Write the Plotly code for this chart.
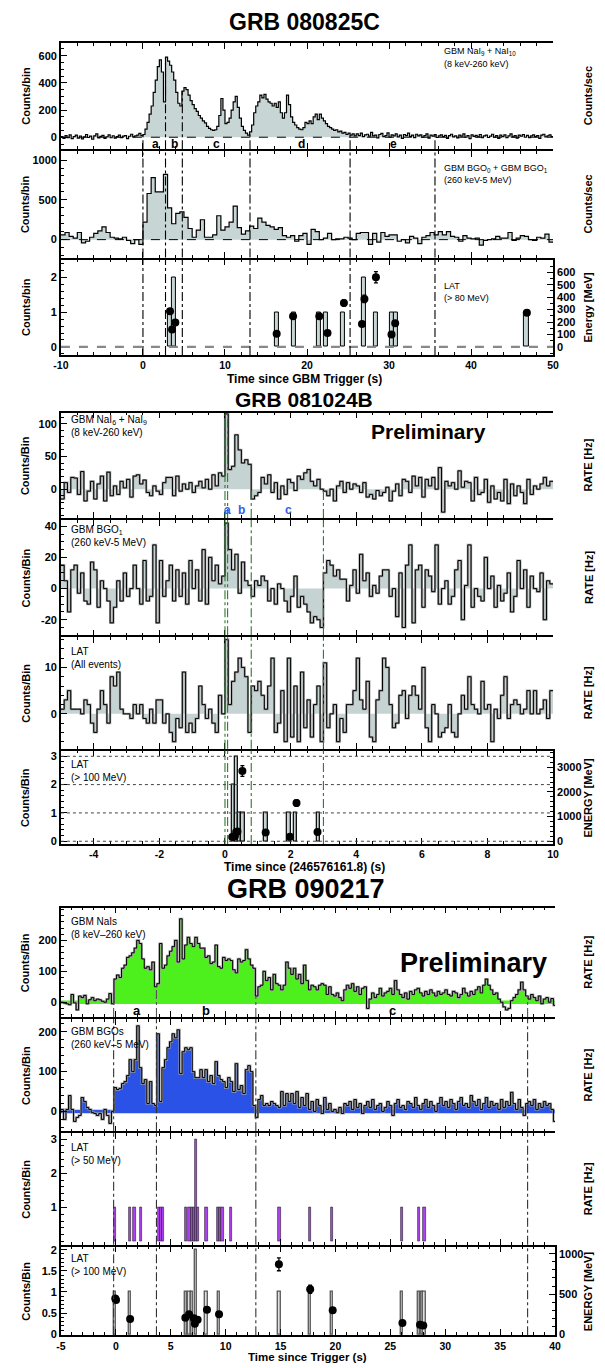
import numpy as np
import plotly.graph_objects as go

# ============================ DATA ============================
# ---------- GRB 080825C ----------
nai_080825c_start = -10.0
nai_080825c_bin = 0.25
nai_080825c_counts = [
    5, -8, 12, -3, 18, -10, 4, 15, -6, 9,
    -12, 3, 20, -2, 8, -15, 10, 25, -5, 6,
    14, -9, 2, 18, -4, 11, -7, 5, 16, -3,
    8, 12, -10, 7, 22, 3, 10, 15, 28, 12,
    20, 60, 110, 170, 230, 330, 420, 520, 570, 480,
    260, 590, 560, 530, 480, 420, 330, 250, 230, 340,
    365, 350, 310, 270, 240, 210, 190, 160, 140, 120,
    105, 80, 65, 55, 50, 55, 80, 160, 285, 200,
    100, 110, 140, 200, 260, 300, 220, 140, 80, 50,
    30, 15, 40, 90, 180, 230, 260, 310, 290, 315,
    280, 260, 250, 230, 250, 220, 260, 180, 140, 180,
    310, 240, 150, 110, 90, 70, 60, 55, 70, 110,
    100, 120, 100, 150, 170, 130, 170, 140, 120, 100,
    80, 70, 60, 50, 55, 40, 45, 30, 35, 20,
    30, 15, 25, 10,
    25, 12, 30, 5, 18, 22, 8, 35, 10, 15,
    -5, 20, 28, 5, 12, 32, 0, 18, 10, 25,
    3, 15, -8, 20, 12, 30, 6, 15, -3, 22,
    10, 18, 0, 12, 25, -6, 15, 8, 20, -2,
    10, 18, 5, 14, -8, 12, 22, 3, 10, -5,
    16, 8, 25, 0, 12, -10, 18, 6, 14, 2,
    20, -4, 10, 15, -2, 8, 22, 0, 12, -8,
    15, 5, 18, -3, 10, 25, 2, 12, -6, 16,
    8, 20, 0, 14, -4, 10, 18, 5, 12, -8,
    15, 22, 3, 10, 18, 5]

bgo_080825c_start = -10.0
bgo_080825c_bin = 0.5
bgo_080825c_counts = [
    60, 90, 40, 20, 90, -40, -20, 30, 80, 110,
    160, 90, 30, 20, 10, 30, -10, -50, 0, -60,
    220, 580, 780, 600, 600, 820, 400, 200, 330, 350,
    280, 140, 30, 120, 250, 30, 30, 60, 300, 120,
    160, 220, 420, 150, 70, 110, 170, 140, 270, 220,
    180, 160, 130, 150, 50, 30, 50, -20, 50, 80,
    -60, 130, 100, 0, 20, 80, 0, 10, 10, 30,
    20, 0, 80, 90, 90, -60, 80, -30, 90, 40,
    60, 60, -20, 0, -40, 40, 20, -50, 30, 50,
    90, 60, 100, 60, 100, 40, 30, -20, 50, 20,
    10, 20, -70, -10, 0, 10, 40, 20, 20, 90,
    -10, 20, 50, 40, 0, -10, 30, 20, 70, -30]

lat80_bin_centers = [3.25, 3.75, 16.35, 18.35, 21.4, 22.35, 24.35, 26.9, 28.35, 30.35, 30.85, 46.75]
lat80_bin_counts = [1, 2, 1, 1, 1, 1, 1, 2, 1, 1, 1, 1]
lat80_bin_width = 0.5
lat80_evt_time = [3.3, 3.55, 3.95, 16.3, 18.3, 21.5, 22.5, 24.5, 26.7, 27.0, 28.4, 30.3, 30.75, 46.8]
lat80_evt_energy = [288, 140, 196, 106, 246, 246, 112, 353, 185, 386, 560, 101, 190, 274]
lat80_evt_err = [10, 8, 8, 8, 10, 10, 8, 25, 10, 30, 45, 8, 10, 12]

intervals_080825c = [0.0, 2.75, 4.8, 13.05, 25.25, 35.6]
interval_labels_080825c = ["a", "b", "c", "d", "e"]
interval_label_time_080825c = [1.5, 3.85, 9.0, 19.3, 30.5]

# ---------- GRB 081024B ----------
start_081024b = -5.0
bin_081024b = 0.1
nai_081024b_counts = [
    -15, 10, -5, 18, 17, -8, 27, -18, -3, 12,
    -15, 8, 20, -18, 26, -10, 5, -8, 12, 2,
    15, -12, 20, 22, 8, 14, -5, -10, 5, -3,
    -8, 10, 18, 18, -10, 20, -3, 8, 0, 10,
    -5, 5, 12, 2, 15, 0, 22, 5, 25, 20,
    115, 30, 35, 83, 60, 40, 45, 38, -15, -10,
    -5, 18, 8, 22, -5, 10, -15, 5, -8, 15,
    10, -2, 20, 15, 25, 30, 12, 5, 15, 0,
    -3, -10, 0, -18, 5, 12, -5, 10, 0, 8,
    5, -5, 10, -12, -8, -15, -2, -10, -5, 3,
    -18, -3, 8, -10, 15, 12, -5, 20, 5, 18,
    -12, 15, 5, 18, 0, 33, -35, 12, 5, 10,
    0, 28, 3, 12, 10, -18, 18, -8, -5, 15,
    -20, 5, -15, -5, -18, 15, -22, 8, -10, 5,
    -5, -22, 15, -8, 5, 0, 8, 18, 5, 12]
bgo_081024b_counts = [
    15, 5, -15, 12, 15, -3, 10, -8, -10, 17,
    12, -12, 5, 0, -8, -22, -12, 5, -8, 10,
    -5, 0, 15, 0, -10, 18, -8, -5, 28, -22,
    18, -5, 5, 15, -8, 12, -5, 10, -10, 18,
    0, 12, -8, 25, -10, 20, 5, 15, 3, 8,
    42, 25, 12, 22, -3, 17, 5, 2, -5, 5,
    2, 8, 5, -8, 0, -10, 3, 0, -8, -15,
    -5, 8, -12, -5, -10, -15, -22, -18, -20, -25,
    10, 18, 15, 8, 12, 6, 6, -8, 2, 12,
    -3, 22, 5, 10, -5, 2, -3, 8, 12, 12,
    -5, 0, -18, 10, -25, 15, 28, -22, 12, 15,
    -12, 12, 8, -2, 28, -10, 0, 5, -10, -5,
    12, 18, -20, 2, 28, -12, 0, -5, -8, 20,
    0, 8, -12, 2, -8, -3, 10, -15, -5, 18,
    0, 12, -12, 8, 0, -2, 10, -20, 5, 3]
latall_081024b_counts = [
    1, 3, 5, 1, 1, 1, 0, 3, 2, -2,
    -4, 1, 5, 2, -2, 8, 6, 9, 1, 0,
    0, -1, 2, 0, 2, -1, -2, 1, -2, 3,
    3, -2, 0, -4, -6, -1, -3, 9, -4, -2,
    -4, -1, 6, 2, -1, 1, -2, -4, 4, 0,
    16, 2, 7, 9, 12, 10, 8, -4, 6, 5,
    7, 4, 1, 6, 12, -4, -2, 5, -6, 12,
    -5, 6, -6, 9, -3, 3, -5, 2, 6, -6,
    11, -3, 0, 2, -6, -1, -4, 2, 2, 5,
    12, 3, 1, 7, -5, -6, 3, 5, 12, 10,
    2, -3, -2, 4, 5, -1, 4, 6, 4, 1,
    10, -3, -6, 2, 0, -5, -4, -3, 2, -4,
    -5, 0, 4, 1, 8, 2, 1, 0, 7, 1,
    2, -6, 1, -1, 4, 8, -1, 2, 3, 2,
    0, 1, 5, 0, 5, 0, 1, 3, -1, 5]
lat100_081024b_centers = [0.25, 0.35, 0.45, 0.55, 1.25, 1.95, 2.15, 2.85]
lat100_081024b_counts = [2, 3, 1, 1, 1, 1, 1, 1]
lat100_081024b_width = 0.1
lat100_081024b_evt_time = [0.22, 0.3, 0.34, 0.38, 0.53, 1.24, 1.98, 2.18, 2.82]
lat100_081024b_evt_energy = [170, 200, 380, 400, 2850, 350, 180, 1550, 380]
lat100_081024b_evt_err = [30, 30, 40, 40, 220, 40, 30, 130, 40]

intervals_081024b = [0.0, 0.08, 0.8, 3.0]
interval_labels_081024b = ["a", "b", "c"]
interval_label_time_081024b = [0.07, 0.5, 1.95]

# ---------- GRB 090217 ----------
start_090217 = -5.0
bin_090217 = 0.23
nai_090217_counts = [
    0, -3, -5, -8, 25, -2, -25, 20, 15, 22,
    -5, 8, 15, 5, 10, 8, 3, 0, 10, 28, -5,
    75, 88, 80, 110, 120, 145, 150, 160, 175, 200,
    190, 140, 110, 115, 105, 130, 50, 60, 190, 110,
    120, 150, 165, 180, 200, 130, 270, 140, 185, 210,
    190, 180, 210, 190, 175, 175, 145, 150, 125, 130,
    185, 115, 110, 145, 135, 140, 135, 105, 95, 140,
    130, 135, 170, 140, 120, 110, 20, 50, 55, 100,
    70, 80, 40, 90, 60, 55, 40, 55, 130, 110,
    90, 110, 75, 90, 60, 120, 70, 40, 55, 50,
    40, 55, 60, 55, 25, 50, 25, 20, 30, 15,
    5,
    40, 55, 45, 60, 35, 50, 25, 45, 50, -20,
    10, 30, 15, 25, 45, 20, 30, 35, 45, 25,
    70, 40, 25, 15, 30, 10, 35, 25, 40, 45,
    30, 20, 35, 25, 40, 30, 20, 35, 25, 30,
    40, 25, 20, 35, 30, 15, 25, 45, 30, 20,
    35, 25, 40, 50, 30, 55, 75, 55, 40, 25,
    30, 10, 0, -15, -25, -20, 5, 15, 25, 40,
    65, 40, 20, 10, 25, 15, 5, 20, -5, 10,
    15, 0, 12, -10]
bgo_090217_counts = [
    5, -20, 5, 40, 5, -25, -15, -10, 35, 25,
    10, 5, -3, -5, -10, -5, -20, 5, -10, -30, 0,
    60, 55, 58, 70, 75, 90, 130, 100, 130, 215,
    110, 70, 80, 20, 75, 20, 15, 195, 25, 110,
    130, 160, 175, 195, 185, 205, 95, 150, 160, 155,
    160, 100, 85, 85, 105, 85, 105, 75, 90, 70,
    125, 90, 80, 75, 60, 85, 75, 50, 120, 55,
    65, 45, 105, 115, 100, 15, -15, 30, 40, 15,
    20, 15, 25, 20, 15, 10, 50, 15, 45, 25,
    45, 20, 50, 10, 35, 15, 45, 5, 25, 0,
    30, 15, -5, 35, 5, 20, 0, 5, -3, 10,
    -5, 20,
    15, 25, 5, 30, 10, 20, -5, 15, 25, 10,
    30, 5, 15, 20, 0, 10, 25, 15, -10, 20,
    30, 10, 15, 5, 25, 20, 10, 35, 15, 5,
    20, 30, 10, 25, 15, 0, 20, 35, 15, 25,
    10, 30, 20, 5, 25, 35, 15, 20, 10, 40,
    25, 15, 30, 5, 20, 35, 10, 25, 15, 20,
    5, 30, 10, 25, 15, 48, 20, 5, 30, 10,
    -10, 20, 25, 15, 30, 5, 20, 10, 25, 15,
    20, 5, -25]
lat50_090217_centers = [-0.1, 1.3, 1.7, 2.3, 3.9, 4.1, 4.3, 6.35, 6.7, 6.9, 7.1, 7.3,
                        7.5, 8.25, 9.3, 9.5, 9.7, 10.5, 14.9, 17.7, 19.7, 26.05, 27.6, 28.1]
lat50_090217_counts = [1, 1, 1, 1, 1, 1, 1, 1, 1, 1, 1, 3, 1, 1, 1, 1, 1, 1, 1, 1, 1, 1, 1, 1]
lat50_090217_width = 0.2
lat100_090217_centers = [-0.1, 1.3, 6.35, 6.7, 6.9, 7.3, 8.25, 9.4, 14.9, 17.7, 19.7, 26.05, 27.6, 27.85, 28.1]
lat100_090217_counts = [1, 1, 1, 1, 1, 2, 1, 1, 1, 1, 1, 1, 1, 1, 1]
lat100_090217_width = 0.2
lat100_090217_evt_time = [-0.05, 0.02, 1.3, 6.33, 6.67, 7.1, 7.2, 7.45, 8.3, 9.4, 14.85, 17.7, 19.75, 26.1, 27.7, 28.0]
lat100_090217_evt_energy = [445, 425, 190, 205, 250, 200, 130, 180, 305, 250, 870, 560, 300, 140, 120, 110]
lat100_090217_evt_err = [25, 20, 10, 10, 12, 10, 8, 10, 15, 12, 80, 50, 15, 8, 8, 8]

intervals_090217 = [-0.2, 3.7, 12.75, 37.5]
interval_labels_090217 = ["a", "b", "c"]
interval_label_time_090217 = [1.9, 8.2, 25.2]

# ============================ FIGURE ============================
# The page body has an 8px margin, so screen coordinates are shifted by OFF.
OFF = 8
W, H = 605 - OFF, 1368 - OFF
FONT = "Liberation Sans, Arial, Helvetica, sans-serif"
TICKFONT = dict(family=FONT, size=11, color="black", weight="bold")
XTICKFONT = dict(family=FONT, size=10.5, color="black", weight="bold")

fig = go.Figure()


def px(x): return (x - OFF) / W
def py(y): return 1 - (y - OFF) / H


def xkey(i): return "xaxis" if i == 1 else f"xaxis{i}"
def ykey(n): return "yaxis" if n == 1 else f"yaxis{n}"
def xr(i): return "x" if i == 1 else f"x{i}"
def yr(n): return "y" if n == 1 else f"y{n}"


G1 = dict(xr=[-10, 50], xd=(54, 558), xmajor=list(range(-10, 51, 10)), xminor=2)
G2 = dict(xr=[-5, 10], xd=(54, 558), xmajor=list(range(-4, 11, 2)), xminor=0.5)
G3 = dict(xr=[-5, 40], xd=(54, 560), xmajor=list(range(-5, 41, 5)), xminor=1)

panels = [
    dict(g=G1, top=40, bot=147, yr=[-88, 695], ratio=10, lt=[0, 200, 400, 600], lm=50, rt=[0, 2000, 4000, 6000], rm=500),
    dict(g=G1, top=149, bot=256, yr=[-225, 1112], ratio=2, lt=[0, 500, 1000], lm=100, rt=[0, 1000, 2000], rm=200),
    dict(g=G1, top=258, bot=354, yr=[-0.23, 2.51], ratio=280, lt=[0, 1, 2], lm=0.2, rt=[0, 100, 200, 300, 400, 500, 600], rm=50, xlab=True),
    dict(g=G2, top=412, bot=518, yr=[-44, 117], ratio=10, lt=[0, 50, 100], lm=10, rt=[0, 500, 1000], rm=100),
    dict(g=G2, top=520, bot=636, yr=[-30, 44], ratio=10, lt=[-20, 0, 20, 40], lm=5, rt=[-200, 0, 200, 400], rm=50),
    dict(g=G2, top=638, bot=750, yr=[-7.5, 16.5], ratio=10, lt=[0, 10], lm=2, rt=[-50, 0, 50, 100, 150], rm=10),
    dict(g=G2, top=752, bot=846, yr=[-0.1, 3.2], ratio=1150, lt=[0, 1, 2, 3], lm=0.2, rt=[0, 1000, 2000, 3000], rm=200, xlab=True),
    dict(g=G3, top=910, bot=1020, yr=[-48, 306], ratio=5, lt=[0, 100, 200], lm=20, rt=[0, 500, 1000], rm=100),
    dict(g=G3, top=1022, bot=1135, yr=[-50, 232], ratio=5, lt=[0, 100, 200], lm=20, rt=[0, 500, 1000], rm=100),
    dict(g=G3, top=1137, bot=1249, yr=[-0.09, 3.17], ratio=5, lt=[1, 2, 3], lm=0.2, rt=[5, 10, 15], rm=1),
    dict(g=G3, top=1251, bot=1340, yr=[-0.02, 2.07], ratio=526, lt=[0, 0.5, 1, 1.5, 2], lm=0.1, rt=[0, 500, 1000], rm=100, xlab=True),
]


def fmt(v):
    return f"{v:g}"


def minor_vals(lo, hi, step):
    start = np.ceil(lo / step) * step
    return [float(v) for v in np.arange(start, hi + 1e-9, step)]


layout = {}
for i, p in enumerate(panels, start=1):
    g = p["g"]
    xd = [px(g["xd"][0]), px(g["xd"][1])]
    yd = [py(p["bot"]), py(p["top"])]
    layout[xkey(i)] = dict(
        domain=xd, anchor=yr(2 * i - 1), range=g["xr"], showline=True, linecolor="black",
        linewidth=1.5, mirror="ticks", ticks="inside", ticklen=6, tickwidth=1.2, tickcolor="black",
        tickmode="array", tickvals=g["xmajor"], ticktext=[fmt(v) for v in g["xmajor"]],
        minor=dict(ticks="inside", ticklen=3, tickcolor="black", tickmode="array",
                   tickvals=minor_vals(g["xr"][0], g["xr"][1], g["xminor"])),
        showgrid=False, zeroline=False, showticklabels=p.get("xlab", False), tickfont=XTICKFONT,
    )
    layout[ykey(2 * i - 1)] = dict(
        domain=yd, anchor=xr(i), range=p["yr"], showline=True, linecolor="black", linewidth=1.5,
        ticks="inside", ticklen=6, tickwidth=1.2, tickcolor="black", tickmode="array",
        tickvals=p["lt"], ticktext=[fmt(v) for v in p["lt"]],
        minor=dict(ticks="inside", ticklen=3, tickcolor="black", tickmode="array",
                   tickvals=minor_vals(p["yr"][0], p["yr"][1], p["lm"])),
        showgrid=False, zeroline=False, tickfont=TICKFONT,
    )
    rr = [p["yr"][0] * p["ratio"], p["yr"][1] * p["ratio"]]
    layout[ykey(2 * i)] = dict(
        domain=yd, anchor=xr(i), overlaying=yr(2 * i - 1), side="right", range=rr,
        showline=True, linecolor="black", linewidth=1.5, ticks="inside", ticklen=6, tickwidth=1.2,
        tickcolor="black", tickmode="array", tickvals=p["rt"], ticktext=[fmt(v) for v in p["rt"]],
        minor=dict(ticks="inside", ticklen=3, tickcolor="black", tickmode="array",
                   tickvals=minor_vals(rr[0], rr[1], p["rm"])),
        showgrid=False, zeroline=False, tickfont=TICKFONT,
    )

fig.update_layout(**layout)


def add_hist(i, t0, dt, vals, fill, outline=None, positive_fill=False, lw=1):
    n = len(vals)
    x = t0 + dt * np.arange(n + 1)
    y = list(vals) + [vals[-1]]
    yf = list(np.maximum(np.array(y, dtype=float), 0)) if positive_fill else y
    xa, ya = xr(i), yr(2 * i - 1)
    fig.add_trace(go.Scatter(x=x, y=yf, mode="lines", line=dict(shape="hv", width=0, color=fill),
                             fill="tozeroy", fillcolor=fill, xaxis=xa, yaxis=ya, hoverinfo="skip"))
    if outline:
        fig.add_trace(go.Scatter(x=x, y=y, mode="lines", line=dict(shape="hv", width=2.2, color=outline),
                                 xaxis=xa, yaxis=ya, hoverinfo="skip"))
    fig.add_trace(go.Scatter(x=x, y=y, mode="lines", line=dict(shape="hv", width=lw, color="black"),
                             xaxis=xa, yaxis=ya, hoverinfo="skip"))


def hist_value(t, t0, dt, vals):
    idx = int(np.floor((t - t0) / dt + 1e-9))
    idx = min(max(idx, 0), len(vals) - 1)
    return vals[idx]


def add_bars(i, centers, counts, width, fill, line, lw=1):
    fig.add_trace(go.Bar(x=centers, y=counts, width=[width] * len(centers),
                         marker=dict(color=fill, line=dict(color=line, width=lw)),
                         xaxis=xr(i), yaxis=yr(2 * i - 1), hoverinfo="skip"))


def add_events(i, t, e, err, size=8):
    fig.add_trace(go.Scatter(x=t, y=e, mode="markers", marker=dict(color="black", size=size),
                             error_y=dict(type="data", array=err, color="black", thickness=1.3, width=2),
                             xaxis=xr(i), yaxis=yr(2 * i), hoverinfo="skip"))


def vline_full(i, t, color, width=1.1, dash="dashdot"):
    fig.add_shape(type="line", xref=xr(i), yref=yr(2 * i - 1) + " domain", x0=t, x1=t, y0=0, y1=1,
                  line=dict(color=color, width=width, dash=dash))


def vline_part(i, t, ytop, color, width=1.1, dash="dashdot"):
    p = panels[i - 1]
    fig.add_shape(type="line", xref=xr(i), yref=yr(2 * i - 1), x0=t, x1=t, y0=p["yr"][0], y1=ytop,
                  line=dict(color=color, width=width, dash=dash))


def hline(i, y, color, width=1, dash="dash", layer="above"):
    g = panels[i - 1]["g"]
    fig.add_shape(type="line", xref=xr(i), yref=yr(2 * i - 1), x0=g["xr"][0], x1=g["xr"][1], y0=y, y1=y,
                  line=dict(color=color, width=width, dash=dash), layer=layer)


def ann(text, x, y, size=11, bold=True, xanchor="center", yanchor="middle", angle=0, color="black"):
    fig.add_annotation(text=text, x=px(x), y=py(y), xref="paper", yref="paper", showarrow=False,
                       xanchor=xanchor, yanchor=yanchor, textangle=angle,
                       font=dict(family=FONT, size=size, color=color, weight="bold" if bold else "normal"))


def ann_data(i, text, t, y, size=12, color="black"):
    fig.add_annotation(text=text, x=t, y=py(y), xref=xr(i), yref="paper", showarrow=False,
                       xanchor="center", yanchor="middle",
                       font=dict(family=FONT, size=size, color=color, weight="bold"))


# ---------- GRB 080825C ----------
FILL1 = "#c7d5d5"
add_hist(1, nai_080825c_start, nai_080825c_bin, nai_080825c_counts, FILL1, lw=1.2)
hline(1, 0, "black", 1, "dash")
for t in intervals_080825c:
    v = hist_value(t, nai_080825c_start, nai_080825c_bin, nai_080825c_counts)
    vline_part(1, t, max(v, 0), "black")
for lab, t in zip(interval_labels_080825c, interval_label_time_080825c):
    ann_data(1, lab, t, 142, size=12)

add_hist(2, bgo_080825c_start, bgo_080825c_bin, bgo_080825c_counts, FILL1, lw=1.2)
hline(2, 0, "black", 1, "dash")
for t in intervals_080825c:
    vline_full(2, t, "black")

add_bars(3, lat80_bin_centers, lat80_bin_counts, lat80_bin_width, FILL1, "black", 1)
hline(3, 0, "#888888", 2.2, "dash")
for t in intervals_080825c:
    vline_full(3, t, "black")
add_events(3, lat80_evt_time, lat80_evt_energy, lat80_evt_err)

# ---------- GRB 081024B ----------
FILL2 = "#c6d3d3"
GREEN = "#2f7a2f"
OUTL = "#a0a0a0"
add_hist(4, start_081024b, bin_081024b, nai_081024b_counts, FILL2, outline=OUTL)
for t in intervals_081024b:
    v = hist_value(t, start_081024b, bin_081024b, nai_081024b_counts)
    vline_part(4, t, max(v, 0), GREEN)
for lab, t in zip(interval_labels_081024b, interval_label_time_081024b):
    ann_data(4, lab, t, 510, size=12, color="#2f5fe8")

add_hist(5, start_081024b, bin_081024b, bgo_081024b_counts, FILL2, outline=OUTL)
add_hist(6, start_081024b, bin_081024b, latall_081024b_counts, FILL2, outline=OUTL)
for i in (5, 6, 7):
    for t in intervals_081024b:
        vline_full(i, t, GREEN)

for yv in (0, 1, 2, 3):
    hline(7, yv, "#444444", 1, "dot")
add_bars(7, lat100_081024b_centers, lat100_081024b_counts, lat100_081024b_width, FILL2, "black", 1.2)
add_events(7, lat100_081024b_evt_time, lat100_081024b_evt_energy, lat100_081024b_evt_err)

# ---------- GRB 090217 ----------
GREENF = "#4df01c"
BLUEF = "#2a52e6"
add_hist(8, start_090217, bin_090217, nai_090217_counts, GREENF, outline=OUTL, positive_fill=True)
hline(8, 0, GREENF, 3.5, "solid", layer="below")
for t in intervals_090217:
    v = hist_value(t, start_090217, bin_090217, nai_090217_counts)
    vline_part(8, t, max(v, 0), "#555555")
for lab, t in zip(interval_labels_090217, interval_label_time_090217):
    ann_data(8, lab, t, 1013, size=13)

add_hist(9, start_090217, bin_090217, bgo_090217_counts, BLUEF, outline=OUTL, positive_fill=True)
hline(9, 0, BLUEF, 3.5, "solid", layer="below")

add_bars(10, lat50_090217_centers, lat50_090217_counts, lat50_090217_width, "#b040f4", "#222222", 0.6)
add_bars(11, lat100_090217_centers, lat100_090217_counts, lat100_090217_width, "#e0e0e0", "#555555", 1.3)
add_events(11, lat100_090217_evt_time, lat100_090217_evt_energy, lat100_090217_evt_err)
for i in (9, 10, 11):
    for t in intervals_090217:
        vline_full(i, t, "#333333")

# ---------- Text ----------
ann("GRB 080825C", 303, 19, size=23)
ann("GRB 081024B", 303, 399, size=21)
ann("GRB 090217", 305, 891, size=27)
ann("Time since GBM Trigger (s)", 303, 378, size=12)
ann("Time since (246576161.8) (s)", 303, 869, size=12)
ann("Time since Trigger (s)", 306, 1362, size=11.5)

for i, p in enumerate(panels, start=1):
    cy = (p["top"] + p["bot"]) / 2
    left = "Counts/bin" if i <= 3 else "Counts/Bin"
    ann(left, 18, cy, size=11, angle=-90)
right_titles = ["Counts/sec", "Counts/sec", "Energy [MeV]", "RATE [Hz]", "RATE [Hz]", "RATE [Hz]", "ENERGY [MeV]",
                "RATE [Hz]", "RATE [Hz]", "RATE [Hz]", "ENERGY [MeV]"]
for i, (p, txt) in enumerate(zip(panels, right_titles), start=1):
    cy = (p["top"] + p["bot"]) / 2
    ann(txt, 594, cy, size=11, angle=-90)

ann("GBM NaI<sub>9</sub> + NaI<sub>10</sub>", 444, 49, size=9, bold=False, xanchor="left")
ann("(8 keV-260 keV)", 444, 61, size=9, bold=False, xanchor="left")
ann("GBM BGO<sub>0</sub> + GBM BGO<sub>1</sub>", 444, 166, size=9, bold=False, xanchor="left")
ann("(260 keV-5 MeV)", 444, 178, size=9, bold=False, xanchor="left")
ann("LAT", 444, 285, size=9, bold=False, xanchor="left")
ann("(> 80 MeV)", 444, 297, size=9, bold=False, xanchor="left")

ann("GBM NaI<sub>6</sub> + NaI<sub>9</sub>", 62, 419, size=10, bold=False, xanchor="left")
ann("(8 keV-260 keV)", 62, 432, size=10, bold=False, xanchor="left")
ann("Preliminary", 430, 431, size=21)
ann("GBM BGO<sub>1</sub>", 62, 530, size=10, bold=False, xanchor="left")
ann("(260 keV-5 MeV)", 62, 543, size=10, bold=False, xanchor="left")
ann("LAT", 62, 652, size=10, bold=False, xanchor="left")
ann("(All events)", 62, 665, size=10, bold=False, xanchor="left")
ann("LAT", 62, 766, size=10, bold=False, xanchor="left")
ann("(> 100 MeV)", 62, 779, size=10, bold=False, xanchor="left")

ann("GBM NaIs", 62, 924, size=10, bold=False, xanchor="left")
ann("(8 keV–260 keV)", 62, 937, size=10, bold=False, xanchor="left")
ann("Preliminary", 476, 966, size=27)
ann("GBM BGOs", 62, 1035, size=10, bold=False, xanchor="left")
ann("(260 keV–5 MeV)", 62, 1048, size=10, bold=False, xanchor="left")
ann("LAT", 62, 1151, size=10, bold=False, xanchor="left")
ann("(> 50 MeV)", 62, 1164, size=10, bold=False, xanchor="left")
ann("LAT", 62, 1263, size=10, bold=False, xanchor="left")
ann("(> 100 MeV)", 62, 1276, size=10, bold=False, xanchor="left")

fig.update_layout(width=W, height=H, margin=dict(l=0, r=0, t=0, b=0), autosize=False,
                  paper_bgcolor="white", plot_bgcolor="white", showlegend=False, barmode="overlay",
                  bargap=0, font=dict(family=FONT, color="black"))

fig.write_html("out.html")
